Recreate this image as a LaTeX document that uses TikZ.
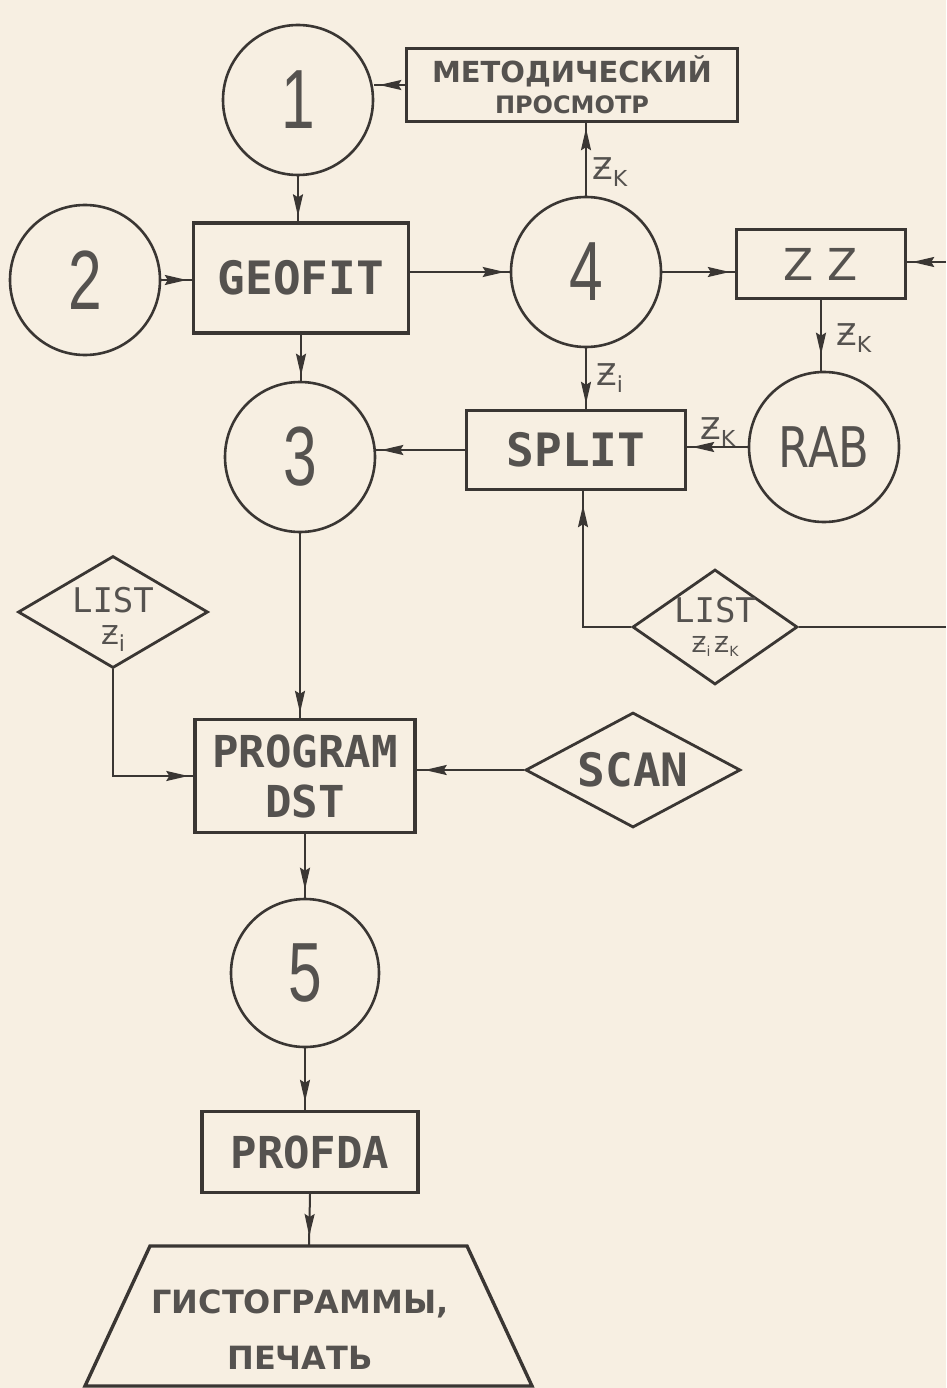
\documentclass[tikz,border=0pt]{standalone}
\usepackage{fontspec}
\setmainfont{DejaVu Sans}
\newfontfamily\monof{DejaVu Sans Mono}
\newfontfamily\narrowf{Liberation Sans}
\usetikzlibrary{shapes.geometric,arrows.meta,decorations.markings}
\definecolor{paper}{HTML}{F7EFE2}
\definecolor{ink}{HTML}{3A3633}
\definecolor{txt}{HTML}{55524F}
\newcommand\bigdig[1]{{\narrowf\fontsize{84}{84}\selectfont\scalebox{0.72}[1]{#1}}}
\newcommand\zsub[1]{Ƶ\raisebox{-7pt}{\fontsize{22}{22}\selectfont #1}}
\tikzset{
 box/.style={draw=ink,line width=3.4pt,rectangle,inner sep=0pt,text=txt,align=center},
 circ/.style={draw=ink,line width=2.6pt,circle,minimum size=150pt,inner sep=0pt,text=txt},
 dia/.style={draw=ink,line width=2.8pt,diamond,inner sep=0pt},
 dtext/.style={text=txt,align=center,inner sep=0pt},
 conn/.style={draw=ink,line width=2pt},
 tipend/.style={postaction={decorate},decoration={markings,mark=at position #1 with {\arrow[ink]{Stealth[length=22pt,width=10pt,inset=3pt]}}}},
 tipend/.default=-5pt,
 lab/.style={text=txt,font=\fontsize{30}{30}\selectfont,inner sep=0pt,anchor=west},
}
\begin{document}
\begin{tikzpicture}[x=1pt,y=-1pt]
\fill[paper] (0,0) rectangle (946,1388);
\useasboundingbox (0,0) rectangle (946,1388);
% nodes
\node[circ] (c1) at (298,100) {\bigdig{1}};
\node[box,minimum width=331pt,minimum height=73pt,font=\bfseries\fontsize{27}{31}\selectfont] (met) at (572,85)
  {{\fontsize{29}{31}\selectfont МЕТОДИЧЕСКИЙ}\\{\fontsize{24}{28}\selectfont ПРОСМОТР}};
\node[circ] (c2) at (85,280) {\bigdig{2}};
\node[box,minimum width=215pt,minimum height=110pt,font=\monof\bfseries\fontsize{46}{46}\selectfont] (geofit) at (301,278) {GEOFIT};
\node[circ] (c4) at (586,272) {\bigdig{4}};
\node[box,minimum width=169pt,minimum height=69pt,font=\fontsize{44}{44}\selectfont] (zz) at (821,264) {Z Z};
\node[circ] (c3) at (300,457) {\bigdig{3}};
\node[box,minimum width=219pt,minimum height=79pt,font=\monof\bfseries\fontsize{46}{48}\selectfont] (split) at (576,450) {SPLIT};
\node[circ,font=\fontsize{56}{56}\selectfont] (rab) at (824,447) {\scalebox{0.8}[1]{RAB}};
\node[dia,minimum width=190pt,minimum height=112pt] (listzi) at (113,612) {};
\node[dtext,font=\fontsize{26}{32}\selectfont] (listzit) at (113,619)
  {{\monof\fontsize{34}{32}\selectfont LIST}\\{\fontsize{26}{26}\selectfont\zsub{i}}};
\node[dia,minimum width=165pt,minimum height=115pt] (listzizk) at (715,627) {};
\node[dtext,font=\fontsize{22}{30}\selectfont] (listzizkt) at (715,627)
  {{\monof\fontsize{34}{32}\selectfont LIST}\\{\fontsize{22}{22}\selectfont Ƶ\raisebox{-4pt}{\fontsize{14}{14}\selectfont i}\,Ƶ\raisebox{-4pt}{\fontsize{14}{14}\selectfont K}}};
\node[box,minimum width=220pt,minimum height=113pt,font=\monof\bfseries\fontsize{44}{50}\selectfont] (program) at (305,776) {PROGRAM\\DST};
\node[dia,minimum width=215pt,minimum height=115pt] (scan) at (633,770) {};
\node[dtext,font=\monof\bfseries\fontsize{46}{46}\selectfont] (scant) at (633,770) {SCAN};
\node[circ,minimum size=148pt] (c5) at (305,973) {\bigdig{5}};
\node[box,minimum width=216pt,minimum height=81pt,font=\monof\bfseries\fontsize{44}{45}\selectfont] (profda) at (310,1152) {PROFDA};
\draw[ink,line width=3.4pt,line join=miter] (150,1246) -- (467,1246) -- (532,1386) -- (85,1386) -- cycle;
\node[text=txt,align=center,font=\bfseries\fontsize{32}{56}\selectfont] (trap) at (300,1330) {ГИСТОГРАММЫ,\\ПЕЧАТЬ};
\coordinate (traptop) at (309,1246);
\coordinate (eR1) at (946,262);
\coordinate (eR2) at (946,627);
% connectors
\draw[conn,tipend] (c1.south) -- (c1.south |- geofit.north);
\draw[conn,tipend] (met.west) -- (met.west -| c1.east);
\draw[conn,tipend] (c4.north) -- (c4.north |- met.south);
\draw[conn,tipend] (c2.east) -- (c2.east -| geofit.west);
\draw[conn,tipend] (geofit.east |- c4.west) -- (c4.west);
\draw[conn,tipend] (c4.east) -- (c4.east -| zz.west);
\draw[conn,tipend] (eR1) -- (eR1 -| zz.east);
\draw[conn,tipend=-16pt] (zz.south) -- (zz.south |- rab.north);
\draw[conn,tipend] (rab.west) -- (rab.west -| split.east);
\draw[conn,tipend] (c4.south) -- (c4.south |- split.north);
\draw[conn,tipend] (split.west) -- (split.west -| c3.east);
\draw[conn,tipend] (geofit.south) -- (geofit.south |- c3.north);
\draw[conn,tipend] (c3.south) -- (c3.south |- program.north);
\draw[conn,tipend] (listzi.south) |- (program.west);
\draw[conn,tipend=-8pt] (scan.west) -- (scan.west -| program.east);
\draw[conn,tipend=-8pt] (program.south) -- (program.south |- c5.north);
\draw[conn,tipend=-8pt] (c5.south) -- (c5.south |- profda.north);
\draw[conn,tipend=-10pt] (profda.south) -- (traptop);
\draw[conn,tipend=-14pt] (listzizk.west) -| ([xshift=7pt]split.south);
\draw[conn] (listzizk.east) -- (eR2);
% labels
\node[lab] (l1) at (592,172) {\zsub{K}};
\node[lab] (l2) at (596,378) {\zsub{i}};
\node[lab] (l3) at (836,338) {\zsub{K}};
\node[lab] (l4) at (700,432) {\zsub{K}};
\end{tikzpicture}
\end{document}
